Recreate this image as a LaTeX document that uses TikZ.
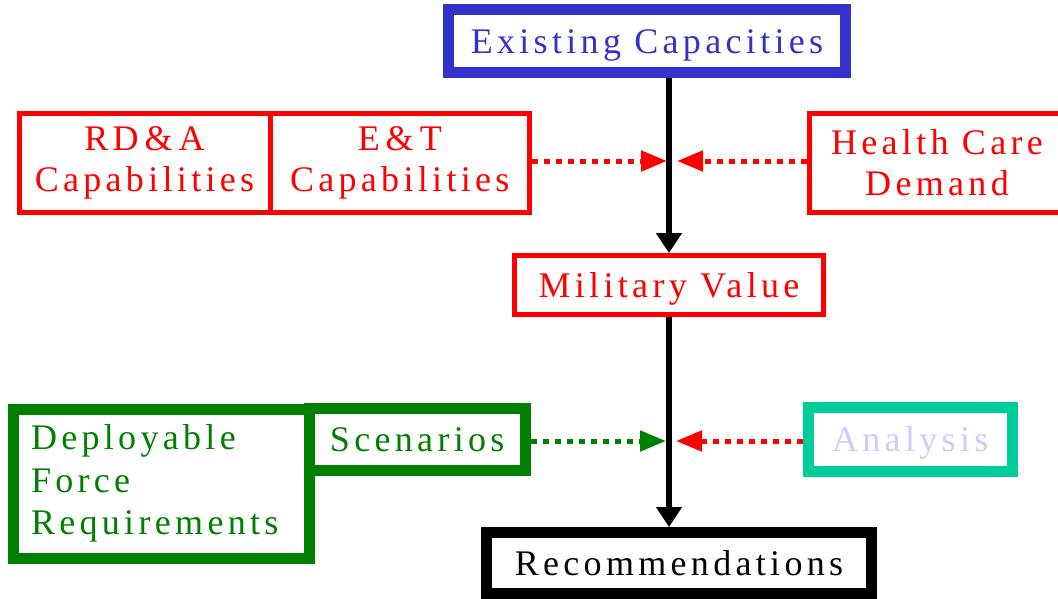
\documentclass[tikz,border=0pt]{standalone}
\usepackage{fontspec}
\setmainfont{Liberation Serif}[LetterSpace=12]
\usetikzlibrary{arrows.meta}
\definecolor{capblue}{HTML}{3333CC}
\definecolor{valred}{HTML}{FF0000}
\definecolor{forcegreen}{HTML}{008000}
\definecolor{anateal}{HTML}{00CC99}
\definecolor{analav}{HTML}{CCCCFF}
\tikzset{%
  box/.style={rectangle, fill=white, inner sep=0pt, align=center,
    font=\fontsize{36}{41}\selectfont},
  oneline/.style={text height=24pt, text depth=0pt},
  thinbox/.style={box, draw=valred, text=valred, line width=5pt},
  thickbox/.style={box, line width=11pt},
  flow/.style={line width=6pt, -{Triangle[length=20pt,width=25pt]}},
  feed/.style={line width=5pt, dash pattern=on 6pt off 6pt,
    -{Triangle[length=26pt,width=20pt]}},
}

\begin{document}
\begin{tikzpicture}[x=1pt,y=-1pt]
  \useasboundingbox (0,0) rectangle (1058,598);
  % main column
  \node[thickbox, oneline, draw=capblue, text=capblue, minimum width=397pt, minimum height=63pt]
    (exist) at (647,41) {Existing Capacities};
  \node[thinbox, oneline, minimum width=309pt, minimum height=59pt]
    (mv) at (669,285) {Military Value};
  \node[thickbox, oneline, draw=black, text=black, minimum width=385pt, minimum height=61pt]
    (rec) at (679,563) {Recommendations};
  % capability inputs
  \node[thinbox, minimum width=251pt, minimum height=99pt]
    (rda) at (144.5,163) {RD\,\&\,A\\Capabilities};
  \node[thinbox, minimum width=259.5pt, minimum height=99pt]
    (et) at (399.75,163) {E\,\&\,T\\Capabilities};
  \node[thinbox, minimum width=256pt, minimum height=99pt]
    (hcd) at (937,163) {Health Care\\Demand};
  % force inputs
  \node[thickbox, draw=forcegreen, text=forcegreen, minimum width=296pt,
    minimum height=148.5pt, text width=260pt, align=left, inner xsep=18pt,
    font=\fontsize{36}{42.5}\selectfont]
    (dfr) at (161,483.75) {Deployable\\Force\\Requirements};
  \node[thickbox, oneline, draw=forcegreen, text=forcegreen, minimum width=216.5pt, minimum height=62pt]
    (scen) at (417.25,439.5) {Scenarios};
  \node[thickbox, oneline, draw=anateal, text=analav, minimum width=203.5pt, minimum height=64pt]
    (ana) at (910.25,439) {Analysis};
  % meeting points on the main column
  \coordinate (topL) at (667,161);
  \coordinate (topR) at (677,161);
  \coordinate (botL) at (666,441);
  \coordinate (botR) at (676,441);
  % arrows
  \draw[flow] (mv.north |- exist.south) -- (mv.north);
  \draw[flow] (mv.south) -- (mv.south |- rec.north);
  \draw[feed, valred] (et.east |- topL) -- (topL);
  \draw[feed, valred] (hcd.west |- topR) -- (topR);
  \draw[feed, forcegreen] (scen.east |- botL) -- (botL);
  \draw[feed, valred] (ana.west |- botR) -- (botR);
\end{tikzpicture}
\end{document}
